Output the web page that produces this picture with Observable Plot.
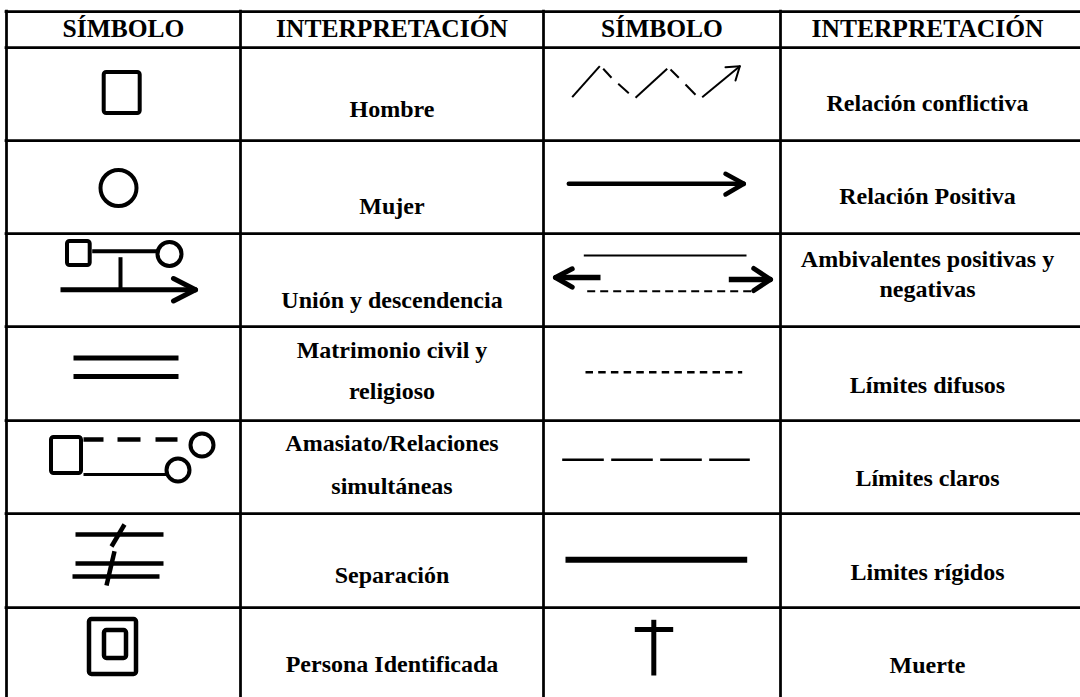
<!DOCTYPE html>
<html>
<head>
<meta charset="utf-8">
<script src="https://cdn.jsdelivr.net/npm/d3@7"></script>
<script src="https://cdn.jsdelivr.net/npm/@observablehq/plot@0.6"></script>
<style>
  html, body { margin: 0; padding: 0; background: #fff; }
  #chart svg { display: block; }
</style>
</head>
<body>
<div id="chart"></div>
<script>
// ---------------- data ----------------
const headers = ["SÍMBOLO", "INTERPRETACIÓN", "SÍMBOLO", "INTERPRETACIÓN"];

const leftSymbols = ["hombre", "mujer", "union", "matrimonio", "amasiato", "separacion", "identificada"];
const leftMeanings = [
  ["Hombre"],
  ["Mujer"],
  ["Unión y descendencia"],
  ["Matrimonio civil y", "religioso"],
  ["Amasiato/Relaciones", "simultáneas"],
  ["Separación"],
  ["Persona Identificada"]
];

const rightSymbols = ["conflictiva", "positiva", "ambivalente", "difusos", "claros", "rigidos", "muerte"];
const rightMeanings = [
  ["Relación conflictiva"],
  ["Relación Positiva"],
  ["Ambivalentes positivas y", "negativas"],
  ["Límites difusos"],
  ["Límites claros"],
  ["Limites rígidos"],
  ["Muerte"]
];

// ---------------- layout ----------------
const W = 1080, H = 697;
const colEdges = [6, 240, 543, 780];
const colCenters = [123, 391.5, 661.5, 927];
const rowEdges = [11, 47, 140, 233, 326, 420, 513, 607];
const gridWidth = 2.75;
// text baselines below each row's top line
const leftBaselines = [[69.7], [73], [74], [31, 72], [30.7, 73], [69.7], [64]];
const rightBaselines = [[63], [63.3], [33, 63.7], [66], [65], [66], [65.7]];

// glyph geometry, local to the symbol cell (left edge, top edge)
const glyphs = {
  hombre: [
    {t: "rect", x1: 97.7, y1: 25, x2: 133.7, y2: 66, w: 4}
  ],
  mujer: [
    {t: "ring", x: 112, y: 47.5, r: 18, w: 4}
  ],
  union: [
    {t: "rect", x1: 61, y1: 8, x2: 83.7, y2: 32, w: 4},
    {t: "ring", x: 163, y: 20.5, r: 12, w: 4},
    {t: "seg", x1: 85.7, y1: 17.7, x2: 151, y2: 17.7, w: 4},
    {t: "seg", x1: 114, y1: 23.7, x2: 114, y2: 56, w: 4},
    {t: "seg", x1: 54, y1: 56.3, x2: 187, y2: 56.3, w: 5},
    {t: "poly", pts: [[167, 45], [189, 56.3], [167, 67.5]], w: 5}
  ],
  matrimonio: [
    {t: "seg", x1: 67, y1: 31.5, x2: 172, y2: 31.5, w: 5},
    {t: "seg", x1: 67, y1: 50, x2: 172, y2: 50, w: 5}
  ],
  amasiato: [
    {t: "rect", x1: 45, y1: 17, x2: 75, y2: 53, w: 4},
    {t: "seg", x1: 77, y1: 19, x2: 97, y2: 19, w: 4.5},
    {t: "seg", x1: 111, y1: 19, x2: 134, y2: 19, w: 4.5},
    {t: "seg", x1: 149, y1: 19, x2: 171, y2: 19, w: 4.5},
    {t: "ring", x: 195.5, y: 24.5, r: 11.5, w: 4},
    {t: "ring", x: 171.5, y: 49.5, r: 11.5, w: 4},
    {t: "seg", x1: 77, y1: 54, x2: 160, y2: 54, w: 3}
  ],
  separacion: [
    {t: "seg", x1: 69, y1: 21, x2: 157, y2: 21, w: 4.5},
    {t: "seg", x1: 69, y1: 50, x2: 157, y2: 50, w: 4.5},
    {t: "seg", x1: 66, y1: 63, x2: 153, y2: 63, w: 4.5},
    {t: "seg", x1: 118, y1: 11, x2: 105, y2: 33, w: 4.5},
    {t: "seg", x1: 108, y1: 37.7, x2: 100, y2: 72, w: 4.5}
  ],
  identificada: [
    {t: "rect", x1: 83, y1: 12, x2: 130, y2: 67, w: 4.5},
    {t: "rect", x1: 98, y1: 23, x2: 120, y2: 51, w: 4.5}
  ],
  conflictiva: [
    {t: "seg", x1: 28.7, y1: 49.7, x2: 56.3, y2: 18.7, w: 2},
    {t: "seg", x1: 59.7, y1: 21.3, x2: 68, y2: 30.3, w: 2},
    {t: "seg", x1: 74.7, y1: 36.3, x2: 85.3, y2: 45.7, w: 2},
    {t: "seg", x1: 92, y1: 50.3, x2: 123.7, y2: 21.3, w: 2},
    {t: "seg", x1: 127, y1: 22, x2: 135.3, y2: 30.3, w: 2},
    {t: "seg", x1: 142, y1: 37, x2: 152, y2: 47.3, w: 2},
    {t: "seg", x1: 158.7, y1: 49.7, x2: 196.3, y2: 18.7, w: 2},
    {t: "poly", pts: [[182, 19.7], [196.3, 18.7], [192, 33]], w: 2}
  ],
  positiva: [
    {t: "seg", x1: 25.3, y1: 43.3, x2: 198, y2: 43.3, w: 4.5, cap: "round"},
    {t: "poly", pts: [[182, 33.3], [200.3, 43.3], [182, 54]], w: 4.5}
  ],
  ambivalente: [
    {t: "seg", x1: 40.3, y1: 22, x2: 203, y2: 22, w: 2},
    {t: "seg", x1: 15, y1: 44, x2: 57, y2: 44, w: 5.5},
    {t: "poly", pts: [[28.7, 35.3], [12, 44], [28.7, 53.7]], w: 5},
    {t: "seg", x1: 185.3, y1: 46, x2: 224, y2: 46, w: 5.5},
    {t: "poly", pts: [[210.3, 35], [227, 46], [210.3, 57]], w: 5},
    {t: "seg", x1: 43.7, y1: 57.7, x2: 210.3, y2: 57.7, w: 2, dash: "8,5"}
  ],
  difusos: [
    {t: "seg", x1: 42, y1: 45.7, x2: 198.7, y2: 45.7, w: 2.5, dash: "7.5,5.2"}
  ],
  claros: [
    {t: "seg", x1: 18.7, y1: 39.3, x2: 206.3, y2: 39.3, w: 2.5, dash: "41.6,7.4"}
  ],
  rigidos: [
    {t: "seg", x1: 22, y1: 46.3, x2: 203.7, y2: 46.3, w: 6}
  ],
  muerte: [
    {t: "seg", x1: 110.3, y1: 12.3, x2: 110.3, y2: 68, w: 5},
    {t: "seg", x1: 91.3, y1: 22, x2: 129.7, y2: 22, w: 5}
  ]
};

// ---------------- build mark data ----------------
const rects = [], rings = [], segs = [];
function place(name, col, row) {
  const ox = colEdges[col], oy = rowEdges[row + 1];
  for (const p of glyphs[name]) {
    if (p.t === "rect") rects.push({x1: ox + p.x1, x2: ox + p.x2, y1: oy + p.y1, y2: oy + p.y2, w: p.w});
    else if (p.t === "ring") rings.push({x: ox + p.x, y: oy + p.y, r: p.r, w: p.w});
    else if (p.t === "seg") segs.push({x1: ox + p.x1, y1: oy + p.y1, x2: ox + p.x2, y2: oy + p.y2, w: p.w, cap: p.cap || "butt", dash: p.dash || "none"});
    else if (p.t === "poly") {
      for (let i = 0; i < p.pts.length - 1; i++) {
        segs.push({x1: ox + p.pts[i][0], y1: oy + p.pts[i][1], x2: ox + p.pts[i + 1][0], y2: oy + p.pts[i + 1][1], w: p.w, cap: "round", dash: "none"});
      }
    }
  }
}
leftSymbols.forEach((s, i) => place(s, 0, i));
rightSymbols.forEach((s, i) => place(s, 2, i));

const headerTexts = headers.map((h, i) => ({text: h, x: colCenters[i], y: rowEdges[0] + 25.7}));
const bodyTexts = [];
leftMeanings.forEach((lines, i) => {
  const top = rowEdges[i + 1];
  lines.forEach((t, j) => bodyTexts.push({text: t, x: colCenters[1], y: top + leftBaselines[i][j]}));
});
rightMeanings.forEach((lines, i) => {
  const top = rowEdges[i + 1];
  lines.forEach((t, j) => bodyTexts.push({text: t, x: colCenters[3], y: top + rightBaselines[i][j]}));
});

const hLines = rowEdges.map(y => ({y, x1: colEdges[0] - gridWidth / 2, x2: W}));
const vLines = colEdges.map(x => ({x, y1: rowEdges[0] - gridWidth / 2, y2: H}));

const segGroups = d3.groups(segs, d => d.cap + "|" + d.dash);

const chart = Plot.plot({
  width: W,
  height: H,
  margin: 0,
  x: {type: "linear", domain: [0, W], range: [0, W], axis: null},
  y: {type: "linear", domain: [0, H], range: [0, H], axis: null},
  r: {type: "identity"},
  style: {background: "white"},
  marks: [
    Plot.ruleY(hLines, {y: "y", x1: "x1", x2: "x2", stroke: "black", strokeWidth: gridWidth}),
    Plot.ruleX(vLines, {x: "x", y1: "y1", y2: "y2", stroke: "black", strokeWidth: gridWidth}),
    Plot.rect(rects, {x1: "x1", x2: "x2", y1: "y1", y2: "y2", fill: "none", stroke: "black", strokeWidth: "w", rx: 2.5}),
    Plot.dot(rings, {x: "x", y: "y", r: "r", fill: "none", stroke: "black", strokeWidth: "w"}),
    ...segGroups.map(([key, data]) => {
      const [cap, dash] = key.split("|");
      return Plot.link(data, {
        x1: "x1", y1: "y1", x2: "x2", y2: "y2",
        stroke: "black", strokeWidth: "w",
        strokeLinecap: cap, strokeLinejoin: "round",
        strokeDasharray: dash === "none" ? undefined : dash
      });
    }),
    Plot.text(headerTexts, {x: "x", y: "y", text: "text", fontFamily: "Liberation Serif", fontWeight: "bold", fontSize: 25.5, fill: "black", textAnchor: "middle", lineAnchor: "bottom"}),
    Plot.text(bodyTexts, {x: "x", y: "y", text: "text", fontFamily: "Liberation Serif", fontWeight: "bold", fontSize: 24, fill: "black", textAnchor: "middle", lineAnchor: "bottom"})
  ]
});
document.getElementById("chart").appendChild(chart);
</script>
</body>
</html>
